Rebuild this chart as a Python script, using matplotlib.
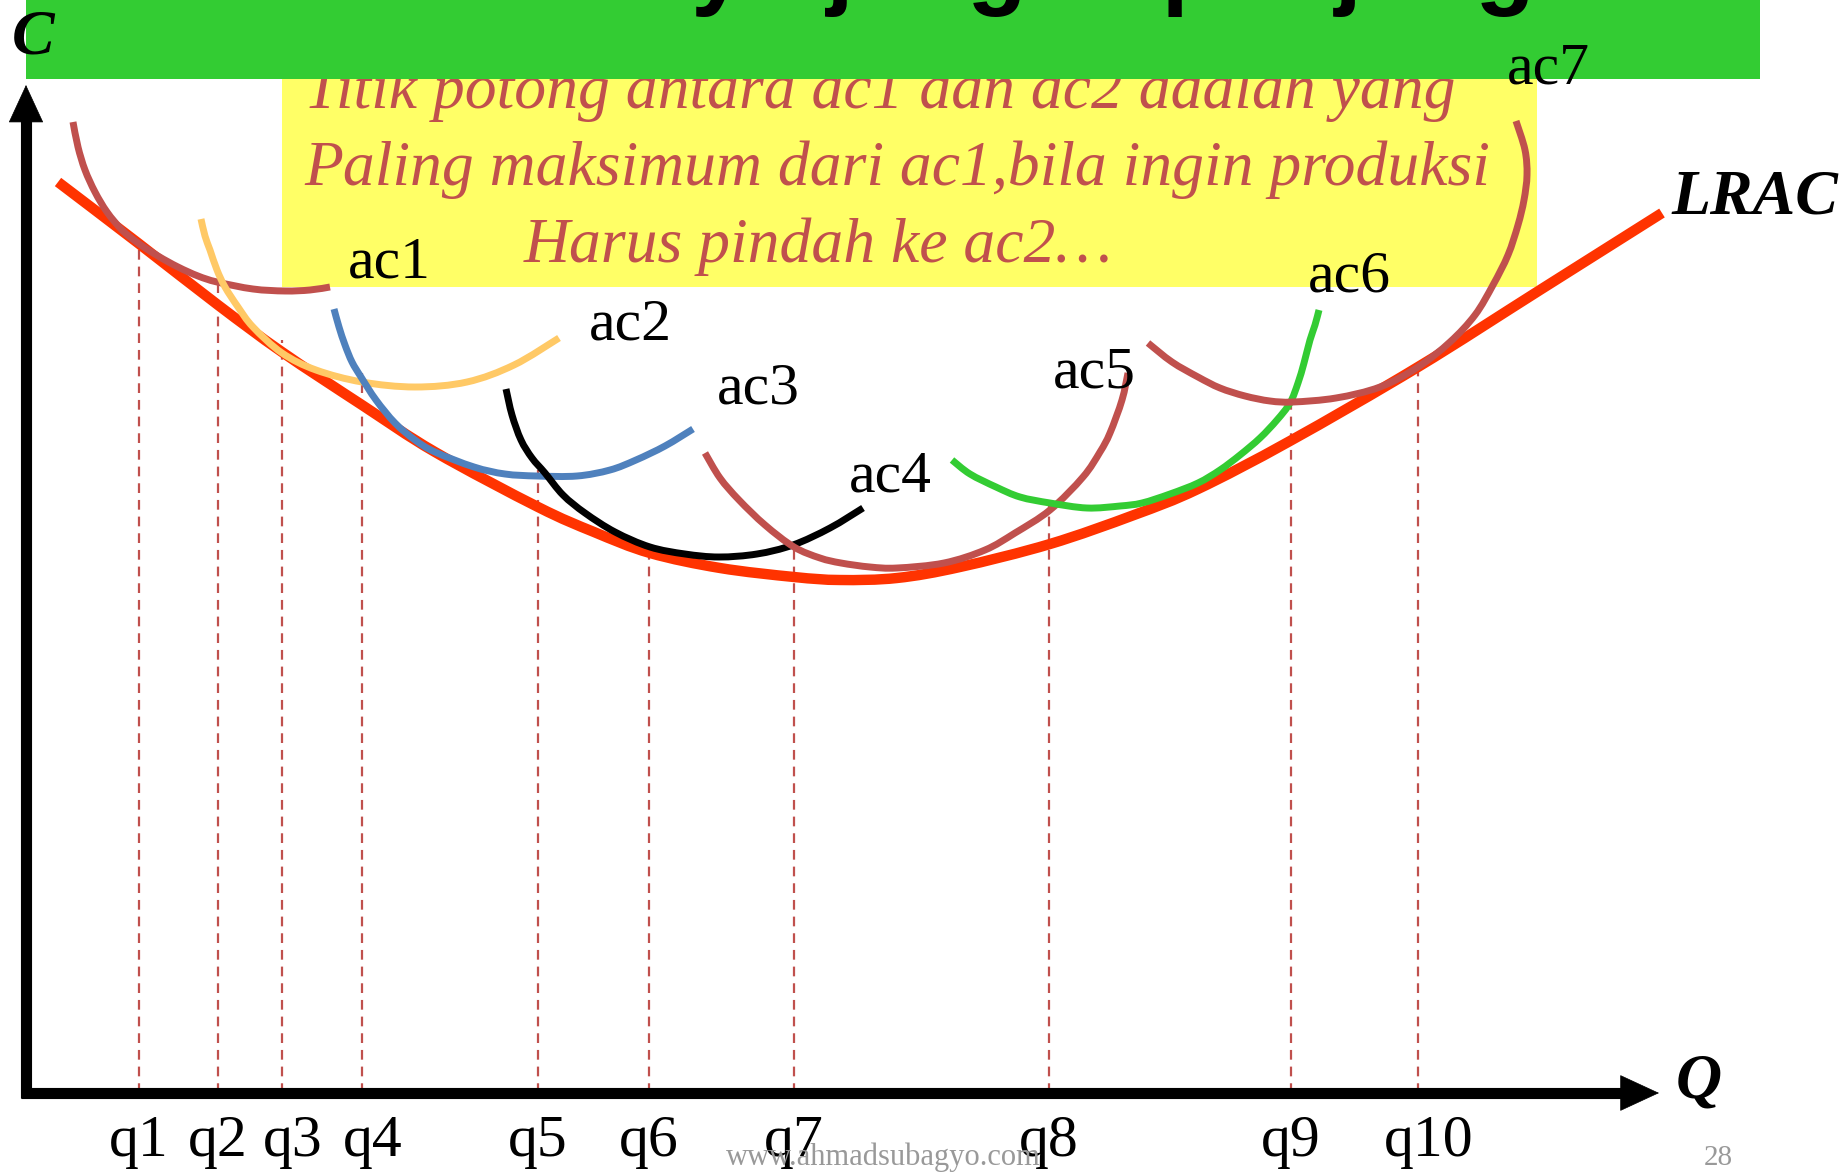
import matplotlib
matplotlib.use('Agg')
import matplotlib.pyplot as plt
from matplotlib.patches import Rectangle, PathPatch
from matplotlib.path import Path

plt.rcParams['lines.scale_dashes'] = False

# ---------------- data (Q = output, C = cost, arbitrary units) ----------------
lrac_q = [3.2, 11.2, 19.2, 25.6, 33.6, 40.9, 51.2, 56.8, 62.4, 69.4, 76.8, 81.4,
          87.1, 93.4, 102.4, 110.8, 117.2, 126.4, 139.2, 151.4, 163.6]
lrac_c = [91.1, 85.0, 78.8, 74.1, 68.8, 64.1, 58.6, 56.1, 54.0, 52.5, 51.6, 51.3,
          51.5, 52.6, 54.9, 57.8, 60.4, 65.2, 72.6, 80.3, 88.0]

ac1_q = [4.7, 5.2, 5.9, 6.9, 8.1, 9.6, 11.2, 13.2, 15.2, 17.2, 19.1, 22.7, 25.9, 28.4, 30.4]
ac1_c = [97.1, 94.6, 92.3, 90.1, 88.1, 86.3, 85.0, 83.7, 82.6, 81.7, 81.1, 80.4, 80.2, 80.3, 80.6]

ac2_q = [17.5, 17.9, 18.4, 19.1, 19.9, 21.2, 22.7, 25.6, 29.0, 33.6, 38.9, 44.1, 48.8, 53.3]
ac2_c = [87.4, 85.7, 84.3, 82.3, 80.6, 78.6, 76.6, 74.0, 72.3, 71.1, 70.6, 71.1, 72.8, 75.5]

ac3_q = [30.8, 31.3, 31.9, 32.6, 33.5, 35.0, 36.9, 38.9, 40.9, 44.8, 47.9, 51.1, 55.1,
         58.4, 61.0, 63.9, 66.7]
ac3_c = [78.4, 76.6, 74.8, 73.1, 71.6, 69.3, 67.0, 65.3, 64.1, 62.6, 61.9, 61.7, 61.7,
         62.3, 63.3, 64.7, 66.4]

ac4_q = [48.0, 48.6, 49.5, 50.6, 51.9, 53.7, 55.9, 58.9, 62.4, 65.9, 69.3, 73.1, 76.7, 80.4, 83.7]
ac4_c = [70.4, 67.8, 65.3, 63.5, 62.0, 59.8, 58.0, 56.1, 54.6, 53.9, 53.6, 53.9, 54.8, 56.5, 58.5]

ac5_q = [67.9, 69.4, 71.3, 73.9, 76.8, 79.4, 81.5, 84.4, 87.1, 91.8, 95.9, 98.9, 102.4,
         105.7, 107.4, 108.4, 109.6, 110.2]
ac5_c = [64.0, 61.5, 59.3, 56.8, 54.6, 53.5, 53.0, 52.6, 52.5, 53.0, 54.3, 56.0, 58.3,
         61.6, 64.1, 66.0, 69.3, 72.0]

ac6_q = [92.6, 94.4, 97.0, 99.4, 102.4, 106.1, 109.4, 111.6, 114.4, 117.2, 119.4, 121.4,
         123.4, 125.1, 126.4, 127.2, 127.8, 128.4, 128.9, 129.3]
ac6_c = [63.3, 61.9, 60.6, 59.6, 59.0, 58.5, 58.7, 59.0, 59.9, 61.0, 62.3, 63.8,
         65.5, 67.3, 69.0, 71.0, 73.0, 75.3, 76.8, 78.3]

ac7_q = [112.2, 114.6, 117.2, 119.4, 121.9, 124.4, 126.7, 131.0, 135.4, 139.2, 142.4,
         144.9, 146.7, 148.2, 149.2, 149.8, 150.1, 149.9, 149.0]
ac7_c = [75.0, 73.1, 71.6, 70.5, 69.7, 69.2, 69.1, 69.5, 70.6, 72.6, 75.1,
         77.8, 80.8, 83.8, 86.8, 89.3, 91.8, 94.3, 97.2]

sac_names = ['ac1', 'ac2', 'ac3', 'ac4', 'ac5', 'ac6', 'ac7']
sac_q = [ac1_q, ac2_q, ac3_q, ac4_q, ac5_q, ac6_q, ac7_q]
sac_c = [ac1_c, ac2_c, ac3_c, ac4_c, ac5_c, ac6_c, ac7_c]
sac_colors = ['#C0504D', '#FFC966', '#4F81BD', '#000000', '#C0504D', '#33CC33', '#C0504D']

q_labels = ['q1', 'q2', 'q3', 'q4', 'q5', 'q6', 'q7', 'q8', 'q9', 'q10']
q_pos = [11.3, 19.2, 25.6, 33.6, 51.2, 62.3, 76.8, 102.3, 126.5, 139.2]
q_top = [84.8, 81.6, 75.3, 72.0, 62.3, 54.5, 54.6, 59.1, 69.0, 72.6]

title_text = 'Biaya jangka panjang'
note_lines = ['Titik potong antara ac1 dan ac2 adalah yang',
              'Paling maksimum dari ac1,bila ingin produksi',
              'Harus pindah ke ac2\u2026']
watermark = 'www.ahmadsubagyo.com'
page_no = '28'

# ---------------- layout ----------------
W, H = 1845, 1172
fig = plt.figure(figsize=(W / 100, H / 100), dpi=100)
ax = fig.add_axes([0, 0, 1, 1])
ax.set_xlim(-2.6, 181.9)
ax.set_ylim(-7.9, 109.3)
ax.axis('off')

serif = 'Liberation Serif'
red_txt = '#C0504D'


def smooth_path(xs, ys):
    """Catmull-Rom style Bezier path through the read points (rendering only)."""
    pts = list(zip(xs, ys))
    verts = [pts[0]]
    codes = [Path.MOVETO]
    n = len(pts)
    for i in range(n - 1):
        p0 = pts[i - 1] if i > 0 else pts[i]
        p1 = pts[i]
        p2 = pts[i + 1]
        p3 = pts[i + 2] if i + 2 < n else pts[i + 1]
        c1 = (p1[0] + (p2[0] - p0[0]) / 6.0, p1[1] + (p2[1] - p0[1]) / 6.0)
        c2 = (p2[0] - (p3[0] - p1[0]) / 6.0, p2[1] - (p3[1] - p1[1]) / 6.0)
        verts += [c1, c2, p2]
        codes += [Path.CURVE4] * 3
    return Path(verts, codes)


def draw_curve(xs, ys, color, lw, z):
    ax.add_patch(PathPatch(smooth_path(xs, ys), facecolor='none', edgecolor=color,
                           lw=lw, capstyle='butt', joinstyle='round', zorder=z))


# boxes
ax.add_patch(Rectangle((25.6, 80.6), 151.1 - 25.6, 103.3 - 80.6,
                       facecolor='#FFFF66', edgecolor='none', zorder=1))
ax.add_patch(Rectangle((0.0, 101.4), 173.4, 10.0,
                       facecolor='#33CC33', edgecolor='none', zorder=4))

# title (only descenders visible, mostly out of frame)
ax.text(51.4, 109.6, title_text, fontsize=70, fontweight='bold',
        family='Liberation Sans', color='black', ha='left', va='baseline', zorder=5)

# note text
note_pos = [(27.8, 98.5), (27.8, 90.8), (49.8, 83.1)]
for (x, y), s in zip(note_pos, note_lines):
    ax.text(x, y, s, fontsize=45.8, style='italic', family=serif, color=red_txt,
            ha='left', va='baseline', zorder=3)

# dashed guide lines
for q, top in zip(q_pos, q_top):
    ax.plot([q, q], [0, top], color='#C0504D', lw=1.6, dashes=(7, 5), zorder=2)

# LRAC
draw_curve(lrac_q, lrac_c, '#FF3300', 7.5, 5)

# short-run AC curves
for q, c, col in zip(sac_q, sac_c, sac_colors):
    draw_curve(q, c, col, 5, 6)

# curve labels
label_pos = [(32.2, 81.6), (56.3, 75.3), (69.1, 68.9), (82.3, 60.1),
             (102.7, 70.5), (128.2, 80.1), (148.1, 101.0)]
for (x, y), s in zip(label_pos, sac_names):
    ax.text(x, y, s, fontsize=43, family=serif, color='black',
            ha='left', va='baseline', zorder=7)

ax.text(164.5, 88.0, 'LRAC', fontsize=46, family=serif, style='italic',
        fontweight='bold', color='black', ha='left', va='baseline', zorder=7)
ax.text(-1.4, 104.0, 'C', fontsize=46, family=serif, style='italic',
        fontweight='bold', color='black', ha='left', va='baseline', zorder=7)
ax.text(165.0, -0.5, 'Q', fontsize=46, family=serif, style='italic',
        fontweight='bold', color='black', ha='left', va='baseline', zorder=7)

# axes with arrows
ax.plot([0, 0], [-0.5, 97.6], color='black', lw=8, solid_capstyle='butt', zorder=8)
ax.plot([-0.55, 159.8], [0, 0], color='black', lw=8, solid_capstyle='butt', zorder=8)
ax.annotate('', xy=(0, 100.8), xytext=(0, 96.5),
            arrowprops=dict(arrowstyle='-|>,head_length=2.6,head_width=1.2',
                            mutation_scale=10, lw=0.5, color='black',
                            shrinkA=0, shrinkB=0), zorder=8)
ax.annotate('', xy=(163.3, 0), xytext=(158.0, 0),
            arrowprops=dict(arrowstyle='-|>,head_length=2.7,head_width=1.25',
                            mutation_scale=10, lw=0.5, color='black',
                            shrinkA=0, shrinkB=0), zorder=8)

# q labels (small horizontal nudges as in the original slide)
q_label_shift = [0, 0, 1.1, 1.1, 0, 0, 0, 0, 0, 1.1]
for q, s, d in zip(q_pos, q_labels, q_label_shift):
    ax.text(q + d, -6.3, s, fontsize=43, family=serif, color='black',
            ha='center', va='baseline', zorder=7)

ax.text(70.0, -7.2, watermark, fontsize=22, family=serif, color='#999999',
        ha='left', va='baseline', zorder=7)
ax.text(167.8, -7.2, page_no, fontsize=21, family=serif, color='#999999',
        ha='left', va='baseline', zorder=7)

fig.savefig('out.png', dpi=100)
